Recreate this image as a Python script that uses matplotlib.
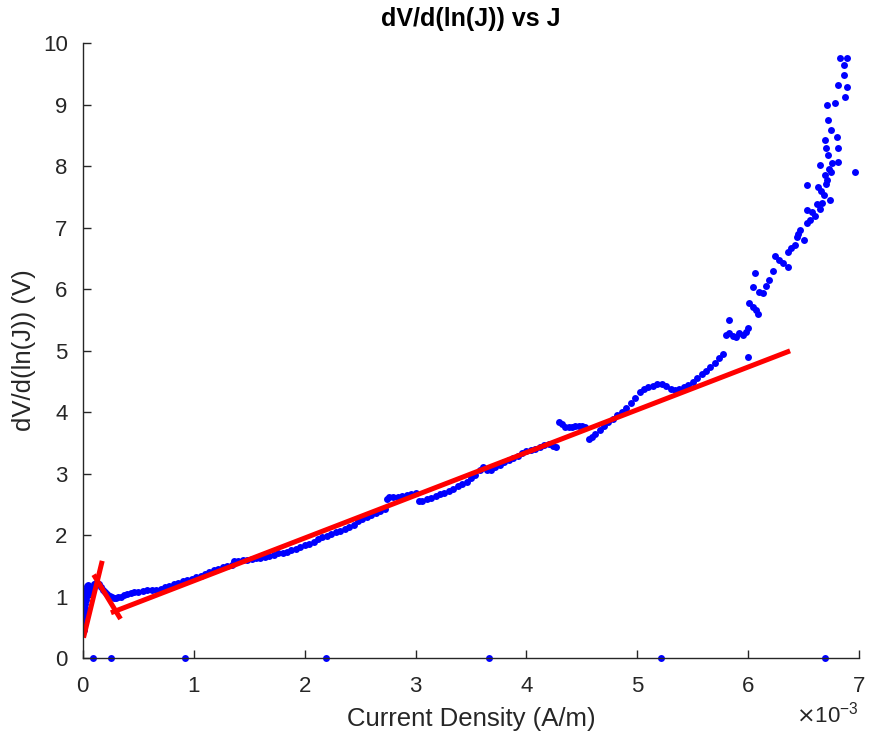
import matplotlib
matplotlib.use('Agg')
import matplotlib.pyplot as plt
from matplotlib.ticker import ScalarFormatter
import numpy as np

plt.rcParams['font.family'] = ['Liberation Sans', 'DejaVu Sans']

# J in units of 1e-3 A/m, dV/d(lnJ) in V
J_data = [0.005, 0.008, 0.010, 0.012, 0.014, 0.016, 0.018, 0.020, 0.022, 0.025,
          0.028, 0.031, 0.035, 0.040, 0.045, 0.050, 0.055, 0.060, 0.030, 0.040,
          0.050, 0.08, 0.10, 0.12, 0.14, 0.16, 0.18, 0.20, 0.22, 0.24,
          0.26, 0.28, 0.30, 0.32, 0.34, 0.37, 0.40, 0.43, 0.46, 0.50,
          0.54, 0.58, 0.62, 0.66, 0.70, 0.74, 0.78, 0.82, 0.86, 0.90,
          0.94, 0.98, 1.02, 1.06, 1.10, 1.14, 1.18, 1.22, 1.26, 1.30,
          1.34, 1.36, 1.40, 1.44, 1.48, 1.52, 1.56, 1.60, 1.64, 1.68,
          1.72, 1.76, 1.80, 1.84, 1.88, 1.92, 1.96, 2.00, 2.04, 2.08,
          2.12, 2.16, 2.20, 2.24, 2.28, 2.32, 2.36, 2.40, 2.44, 2.48,
          2.52, 2.56, 2.60, 2.64, 2.68, 2.72, 2.74, 2.76, 2.80, 2.84,
          2.88, 2.92, 2.96, 3.00, 3.03, 3.06, 3.10, 3.14, 3.18, 3.22,
          3.26, 3.30, 3.34, 3.38, 3.42, 3.46, 3.50, 3.54, 3.58, 3.61,
          3.64, 3.68, 3.72, 3.76, 3.80, 3.84, 3.88, 3.92, 3.96, 4.00,
          4.04, 4.08, 4.12, 4.16, 4.20, 4.24, 4.27, 4.29, 4.32, 4.35,
          4.38, 4.41, 4.44, 4.47, 4.50, 4.53, 4.56, 4.59, 4.62, 4.66,
          4.70, 4.74, 4.78, 4.82, 4.86, 4.90, 4.94, 4.98, 5.02, 5.06,
          5.10, 5.14, 5.18, 5.22, 5.26, 5.30, 5.34, 5.38, 5.42, 5.46,
          5.50, 5.54, 5.58, 5.62, 5.66, 5.70, 5.74, 5.77,
          5.80, 5.83, 5.86, 5.89, 5.92, 5.95, 5.98, 6.00, 5.83, 6.00,
          6.01, 6.04, 6.07, 6.09, 6.04, 6.06, 6.10, 6.13, 6.16, 6.19,
          6.22, 6.24, 6.28, 6.31, 6.36, 6.36, 6.39, 6.42, 6.44, 6.47,
          6.50, 6.53, 6.53, 6.56, 6.60, 6.62, 6.65, 6.68, 6.53, 6.63,
          6.66, 6.71, 6.74, 6.75, 6.96, 6.65, 6.69, 6.72, 6.70, 6.81,
          6.81, 6.69, 6.75, 6.72, 6.80, 6.78, 6.71, 6.81, 6.89, 6.87,
          6.86, 6.83, 6.89, 6.86, 6.70, 6.73, 6.76, 6.67, 6.58, 6.45]
V_data = [0.46, 0.52, 0.58, 0.64, 0.70, 0.76, 0.82, 0.88, 0.94, 1.00,
          1.05, 1.10, 1.14, 1.17, 1.19, 1.16, 1.12, 1.08, 0.95, 1.02,
          1.06, 1.15, 1.20, 1.22, 1.20, 1.16, 1.11, 1.07, 1.04, 1.01,
          0.99, 0.98, 0.98, 0.99, 1.00, 1.02, 1.04, 1.06, 1.07, 1.08,
          1.09, 1.10, 1.10, 1.11, 1.13, 1.15, 1.17, 1.20, 1.22, 1.25,
          1.27, 1.29, 1.31, 1.34, 1.37, 1.40, 1.43, 1.45, 1.48, 1.50,
          1.52, 1.57, 1.58, 1.59, 1.60, 1.61, 1.62, 1.63, 1.65, 1.66,
          1.68, 1.70, 1.71, 1.73, 1.75, 1.77, 1.80, 1.83, 1.86, 1.89,
          1.93, 1.96, 1.99, 2.02, 2.05, 2.07, 2.10, 2.13, 2.17, 2.22,
          2.26, 2.29, 2.32, 2.36, 2.39, 2.42, 2.58, 2.61, 2.61, 2.62,
          2.63, 2.65, 2.66, 2.68, 2.55, 2.55, 2.58, 2.60, 2.63, 2.66,
          2.69, 2.72, 2.75, 2.79, 2.83, 2.87, 2.92, 2.98, 3.05, 3.11,
          3.05, 3.06, 3.10, 3.14, 3.19, 3.22, 3.25, 3.29, 3.33, 3.36,
          3.38, 3.40, 3.43, 3.46, 3.48, 3.45, 3.43, 3.84, 3.80, 3.76,
          3.75, 3.76, 3.78, 3.78, 3.77, 3.76, 3.56, 3.60, 3.64, 3.70,
          3.77, 3.83, 3.89, 3.95, 4.00, 4.06, 4.14, 4.23, 4.33, 4.38,
          4.41, 4.43, 4.45, 4.46, 4.43, 4.38, 4.36, 4.38, 4.41, 4.44,
          4.49, 4.55, 4.61, 4.67, 4.73, 4.80, 4.88, 4.95,
          5.25, 5.28, 5.24, 5.22, 5.28, 5.25, 5.30, 5.36, 5.50, 4.90,
          5.77, 5.70, 5.66, 5.60, 6.04, 6.26, 5.95, 5.93, 6.05, 6.15,
          6.30, 6.53, 6.47, 6.42, 6.36, 6.60, 6.66, 6.72, 6.85, 6.96,
          6.80, 7.07, 7.28, 7.12, 7.18, 7.39, 7.30, 7.53, 7.69, 7.66,
          7.60, 7.77, 7.45, 7.91, 7.91, 8.02, 7.85, 8.18, 8.30, 8.07,
          8.29, 8.42, 8.59, 8.75, 8.48, 9.02, 8.99, 9.32, 9.29, 9.13,
          9.48, 9.75, 9.75, 9.64, 7.70, 7.95, 8.05, 7.40, 7.25, 6.90]

# points where the derivative came out as zero
J_zero = [0.09, 0.25, 0.92, 2.19, 3.66, 5.21, 6.69]
V_zero = [0, 0, 0, 0, 0, 0, 0]

# linear fits (end points)
fit1_J = [0.01, 0.168]
fit1_V = [0.37, 1.54]
fit2_J = [0.108, 0.327]
fit2_V = [1.32, 0.67]
fit3_J = [0.273, 6.357]
fit3_V = [0.75, 4.98]

grey = (0.15, 0.15, 0.15)

fig = plt.figure(figsize=(8.7, 7.38), dpi=100)
ax = fig.add_axes([0.0954, 0.1084, 0.892, 0.8333])

ax.plot(np.array(J_data) * 1e-3, V_data, 'o', color='b', ms=5, mew=0)
ax.plot(np.array(J_zero) * 1e-3, V_zero, 'o', color='b', ms=5, mew=0, clip_on=False)
ax.plot(np.array(fit1_J) * 1e-3, fit1_V, '-', color='r', lw=3.6)
ax.plot(np.array(fit2_J) * 1e-3, fit2_V, '-', color='r', lw=3.6)
ax.plot(np.array(fit3_J) * 1e-3, fit3_V, '-', color='r', lw=3.6)

ax.set_xlim(0, 0.007)
ax.set_ylim(0, 10)
ax.set_yticks(range(0, 11))
ax.set_xticks(np.arange(0, 8) * 1e-3)
fmt = ScalarFormatter(useMathText=True)
fmt.set_powerlimits((-2, 2))
ax.xaxis.set_major_formatter(fmt)
ax.xaxis.get_offset_text().set_fontsize(16)
ax.xaxis.get_offset_text().set_color(grey)

for s in ['top', 'right']:
    ax.spines[s].set_visible(False)
for s in ['left', 'bottom']:
    ax.spines[s].set_color(grey)
    ax.spines[s].set_linewidth(1.0)
ax.tick_params(direction='in', length=6, width=1.0, colors=grey, labelsize=16)
ax.tick_params(axis='x', pad=13)
ax.tick_params(axis='y', pad=11)

ax.set_xlabel('Current Density (A/m)', fontsize=18.5, color=grey, labelpad=7)
ax.set_ylabel('dV/d(ln(J)) (V)', fontsize=18.5, color=grey, labelpad=5)
ax.set_title('dV/d(ln(J)) vs J', fontsize=18, fontweight='bold', color='black', pad=12)

fig.savefig('out.png', dpi=100)
